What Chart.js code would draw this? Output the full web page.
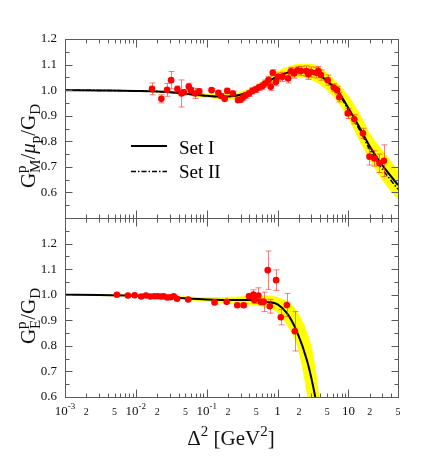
<!DOCTYPE html>
<html>
<head>
<meta charset="utf-8">
<script src="https://cdn.jsdelivr.net/npm/chart.js@4.4.0/dist/chart.umd.min.js"></script>
<style>
  html, body { margin: 0; padding: 0; background: #fff; }
  #wrap { position: relative; width: 436px; height: 462px; }
  canvas { position: absolute; left: 0; }
</style>
</head>
<body>
<div id="wrap">
  <canvas id="topChart" width="436" height="230" style="top:0"></canvas>
  <canvas id="botChart" width="436" height="252" style="top:210px"></canvas>
</div>
<script>
// ---- data ----
// upper panel: G_M^p / mu_p / G_D
var gmX = [0.0169, 0.0229, 0.0276, 0.0314, 0.0386, 0.0440, 0.0474, 0.0558, 0.0596, 0.0687, 0.0783,
           0.117, 0.146, 0.160, 0.179, 0.195, 0.234, 0.276, 0.301, 0.324, 0.355, 0.395, 0.441, 0.491,
           0.547, 0.611, 0.665, 0.743, 0.801, 0.855, 0.944, 1.016, 1.17, 1.41, 1.54, 1.71, 1.91, 2.13,
           2.54, 2.70, 2.95, 3.48, 3.75, 4.09, 5.09, 6.19, 6.90, 7.43, 9.77, 12.1, 16.0, 19.8, 23.3, 27.4, 31.6];
var gmY = [1.005, 0.966, 1.001, 1.039, 1.004, 0.987, 0.992, 1.014, 1.000, 0.987, 0.995,
           1.000, 0.990, 0.977, 0.966, 0.997, 0.987, 0.961, 0.963, 0.971, 0.980, 0.987, 0.997, 1.003,
           1.011, 1.016, 1.026, 1.039, 1.013, 1.068, 1.032, 1.052, 1.052, 1.046, 1.074, 1.065, 1.078, 1.075,
           1.075, 1.062, 1.071, 1.068, 1.075, 1.059, 1.039, 1.010, 1.000, 0.972, 0.909, 0.886, 0.831, 0.740, 0.733, 0.714, 0.724];
var gmErr = [0.023, 0.016, 0.025, 0.034, 0.012, 0.053, 0.010, 0.013, 0.010, 0.020, 0.010,
             0.006, 0.008, 0.010, 0.008, 0.010, 0.010, 0.010, 0.010, 0.010, 0.012, 0.012, 0.012, 0.012,
             0.012, 0.014, 0.014, 0.015, 0.015, 0.012, 0.015, 0.015, 0.018, 0.018, 0.015, 0.018, 0.015, 0.018,
             0.020, 0.020, 0.020, 0.020, 0.018, 0.020, 0.020, 0.015, 0.015, 0.018, 0.020, 0.018, 0.020, 0.033, 0.030, 0.036, 0.062];

var mX      = [0.001, 0.003, 0.01, 0.03, 0.05, 0.1, 0.15, 0.2, 0.3, 0.5, 0.7, 1, 1.5, 2, 3, 4, 5, 7, 10, 15, 20, 30, 50];
var mSet1   = [1.000, 0.999, 0.997, 0.992, 0.986, 0.978, 0.975, 0.975, 0.982, 1.006, 1.030, 1.054, 1.071, 1.077, 1.072, 1.057, 1.036, 0.998, 0.929, 0.844, 0.780, 0.707, 0.629];
var mSet2   = [1.000, 0.999, 0.997, 0.992, 0.986, 0.978, 0.975, 0.975, 0.982, 1.006, 1.030, 1.054, 1.071, 1.077, 1.072, 1.056, 1.034, 0.994, 0.921, 0.834, 0.767, 0.692, 0.612];
var mBandHi = [1.002, 1.001, 0.999, 0.996, 0.992, 0.986, 0.985, 0.986, 0.994, 1.020, 1.048, 1.075, 1.095, 1.103, 1.102, 1.090, 1.068, 1.028, 0.978, 0.900, 0.832, 0.766, 0.688];
var mBandLo = [0.998, 0.997, 0.995, 0.988, 0.980, 0.970, 0.965, 0.964, 0.970, 0.992, 1.012, 1.033, 1.047, 1.050, 1.040, 1.020, 0.998, 0.955, 0.886, 0.790, 0.727, 0.648, 0.570];

// lower panel: G_E^p / G_D
var geX = [0.0054, 0.00773, 0.0096, 0.0119, 0.0139, 0.016, 0.0182, 0.0203, 0.0227, 0.0247, 0.0275, 0.0307,
           0.0342, 0.0382, 0.0547, 0.129, 0.191, 0.270, 0.332, 0.395, 0.456, 0.470, 0.536, 0.578, 0.638,
           0.726, 0.776, 0.953, 1.11, 1.35, 1.75];
var geY = [1.000, 0.997, 0.998, 0.993, 0.997, 0.993, 0.994, 0.994, 0.993, 0.994, 0.989, 0.990,
           0.994, 0.984, 0.981, 0.970, 0.972, 0.959, 0.959, 0.994, 1.001, 0.979, 0.997, 0.972, 0.972,
           1.096, 0.955, 1.057, 0.912, 0.960, 0.857];
var geErr = [0.003, 0.003, 0.003, 0.003, 0.003, 0.003, 0.003, 0.003, 0.003, 0.003, 0.003, 0.003,
             0.004, 0.004, 0.004, 0.006, 0.005, 0.007, 0.007, 0.010, 0.018, 0.012, 0.030, 0.012, 0.038,
             0.075, 0.027, 0.040, 0.030, 0.045, 0.077];

var eX      = [0.001, 0.003, 0.01, 0.03, 0.1, 0.3, 0.5, 0.7, 1, 1.36, 1.88, 2.63, 3.4, 4.2];
var eSet1   = [1.000, 0.999, 0.996, 0.990, 0.981, 0.979, 0.979, 0.972, 0.962, 0.927, 0.855, 0.738, 0.600, 0.450];
var eBandX  = [0.001, 0.01, 0.03, 0.1, 0.3, 0.5, 0.7, 1, 1.36, 1.88, 2.63, 3.1, 3.9, 4.5];
var eBandHi = [1.003, 1.000, 0.997, 0.990, 0.993, 0.997, 0.998, 0.990, 0.975, 0.935, 0.850, 0.783, 0.600, 0.450];
var eBandLo = [0.997, 0.992, 0.984, 0.972, 0.962, 0.958, 0.948, 0.930, 0.880, 0.800, 0.600, 0.450, 0.200, 0.100];

// axis labels
var xLabelVals = [0.001, 0.002, 0.005, 0.01, 0.02, 0.05, 0.1, 0.2, 0.5, 1, 2, 5, 10, 20, 50];
var xLabelText = ['10^-3', '2', '5', '10^-2', '2', '5', '10^-1', '2', '5', '1', '2', '5', '10', '2', '5'];
var yLabelsTop = ['0.6', '0.7', '0.8', '0.9', '1.0', '1.1', '1.2'];
var yLabelsBot = ['0.6', '0.7', '0.8', '0.9', '1.0', '1.1', '1.2'];
var legendNames = ['Set I', 'Set II'];

// ---- helpers ----
var serif = '"Liberation Serif", "Times New Roman", serif';
function font(size, style) { return (style || '') + size + 'px ' + serif; }

function pts(xs, ys) { return xs.map(function (x, i) { return { x: x, y: ys[i] }; }); }

// rich text: [text, kind] with kind n | i | sup | sub | ss ("sup|sub" stacked)
function richText(ctx, parts, x, y, size, draw) {
  var sm = Math.round(size * 0.7);
  parts.forEach(function (p) {
    var t = p[0], k = p[1];
    if (k === 'ss') {
      var s = t.split('|');
      ctx.font = font(sm);
      if (draw) { ctx.fillText(s[0], x, y - size * 0.42); ctx.fillText(s[1], x, y + size * 0.22); }
      x += Math.max(ctx.measureText(s[0]).width, ctx.measureText(s[1]).width);
    } else if (k === 'sup' || k === 'sub') {
      ctx.font = font(sm);
      if (draw) ctx.fillText(t, x, y + (k === 'sup' ? -size * 0.45 : size * 0.22));
      x += ctx.measureText(t).width;
    } else {
      ctx.font = font(size, k === 'i' ? 'italic ' : '');
      if (draw) ctx.fillText(t, x, y);
      x += ctx.measureText(t).width;
    }
  });
  return x;
}
function richCentered(ctx, parts, cx, y, size) {
  var w = richText(ctx, parts, 0, 0, size, false);
  richText(ctx, parts, cx - w / 2, y, size, true);
}

function panelPlugin(cfg) {
  return {
    id: 'panel_' + cfg.name,
    beforeDatasetDraw: function (chart, args) {
      if (args.index !== 0) return;
      var ctx = chart.ctx, a = chart.chartArea, xs = chart.scales.x, ys = chart.scales.y;
      ctx.save();
      ctx.beginPath();
      ctx.rect(a.left, a.top, a.right - a.left, a.bottom - a.top);
      ctx.clip();
      ctx.strokeStyle = 'rgba(240,40,40,0.6)';
      ctx.lineWidth = 1;
      cfg.errX.forEach(function (x, i) {
        var px = Math.round(xs.getPixelForValue(x)) + 0.5;
        var y1 = ys.getPixelForValue(cfg.errY[i] + cfg.errE[i]);
        var y2 = ys.getPixelForValue(cfg.errY[i] - cfg.errE[i]);
        ctx.beginPath();
        ctx.moveTo(px, y1); ctx.lineTo(px, y2);
        ctx.moveTo(px - 3, y1); ctx.lineTo(px + 3, y1);
        ctx.moveTo(px - 3, y2); ctx.lineTo(px + 3, y2);
        ctx.stroke();
      });
      ctx.restore();
    },
    afterDraw: function (chart) {
      var ctx = chart.ctx, a = chart.chartArea, xs = chart.scales.x, ys = chart.scales.y;
      var L = Math.round(a.left) + 0.5, R = Math.round(a.right) + 0.5;
      var T = Math.round(a.top) + 0.5, B = Math.round(a.bottom) + 0.5;
      ctx.save();
      ctx.strokeStyle = '#5a5a5a';
      ctx.lineWidth = 1;
      ctx.strokeRect(L, T, R - L, B - T);

      // x ticks, top and bottom edges
      ctx.beginPath();
      for (var e = -3; e <= 1; e++) {
        for (var m = 1; m <= 9; m++) {
          var v = m * Math.pow(10, e);
          if (v > 50.0001) break;
          var px = Math.round(xs.getPixelForValue(v)) + 0.5;
          var len = m === 1 ? 8 : 4;
          ctx.moveTo(px, B); ctx.lineTo(px, B - len);
          ctx.moveTo(px, T); ctx.lineTo(px, T + len);
        }
      }
      // y ticks, left and right edges
      for (var k = Math.round(ys.min * 100); k <= Math.round(ys.max * 100); k += 5) {
        var py = Math.round(ys.getPixelForValue(k / 100)) + 0.5;
        var ln = k % 10 === 0 ? 7 : 4;
        ctx.moveTo(L, py); ctx.lineTo(L + ln, py);
        ctx.moveTo(R, py); ctx.lineTo(R - ln, py);
      }
      ctx.stroke();

      // y tick labels
      ctx.fillStyle = '#111';
      ctx.textAlign = 'right';
      ctx.textBaseline = 'middle';
      ctx.font = font(13);
      cfg.yLabels.forEach(function (s) {
        ctx.fillText(s, a.left - 8, ys.getPixelForValue(parseFloat(s)));
      });

      ctx.textAlign = 'left';
      ctx.textBaseline = 'alphabetic';

      // x tick labels
      if (cfg.xLabels) {
        xLabelVals.forEach(function (v, i) {
          var s = xLabelText[i];
          var cx = xs.getPixelForValue(v);
          var decade = Math.abs(Math.log10(v) - Math.round(Math.log10(v))) < 1e-9;
          var parts = s.indexOf('^') >= 0 ? [[s.split('^')[0], 'n'], [s.split('^')[1], 'sup']] : [[s, 'n']];
          richCentered(ctx, parts, cx, a.bottom + 18, decade ? 13 : 10);
        });
      }

      // y axis title, rotated
      ctx.save();
      ctx.translate(cfg.titleX, cfg.titleY);
      ctx.rotate(-Math.PI / 2);
      richCentered(ctx, cfg.title, 0, 0, 21);
      ctx.restore();

      // x axis title
      if (cfg.xTitle) {
        richCentered(ctx, cfg.xTitle, 231, a.bottom + 48, 21);
      }

      // legend
      if (cfg.legend) {
        ctx.strokeStyle = '#000';
        ctx.lineWidth = 2;
        ctx.beginPath(); ctx.moveTo(131, 146); ctx.lineTo(167, 146); ctx.stroke();
        ctx.lineWidth = 1.5;
        ctx.setLineDash([5, 2, 1.5, 2]);
        ctx.beginPath(); ctx.moveTo(131, 171.5); ctx.lineTo(167, 171.5); ctx.stroke();
        ctx.setLineDash([]);
        ctx.fillStyle = '#000';
        ctx.font = font(19);
        ctx.fillText(legendNames[0], 179, 153.5);
        ctx.fillText(legendNames[1], 179, 177.5);
      }
      ctx.restore();
    }
  };
}

function options(yMin, yMax, pad) {
  return {
    responsive: false,
    animation: false,
    devicePixelRatio: 1,
    layout: { padding: pad },
    plugins: { legend: { display: false }, tooltip: { enabled: false } },
    scales: {
      x: { type: 'logarithmic', min: 0.001, max: 50, display: false },
      y: { type: 'linear', min: yMin, max: yMax, display: false }
    }
  };
}

function pointSet(xs, ys) {
  return { data: pts(xs, ys), showLine: false, pointRadius: 3.3, pointBackgroundColor: '#ff0000',
           pointBorderWidth: 0, order: 0 };
}
function curve(xs, ys, dash, width) {
  return { data: pts(xs, ys), showLine: true, borderColor: '#000', borderWidth: width, borderDash: dash,
           pointRadius: 0, cubicInterpolationMode: 'monotone', fill: false, order: 1 };
}
function band(xs, ys, fill) {
  return { data: pts(xs, ys), showLine: true, borderColor: 'rgba(0,0,0,0)', borderWidth: 1,
           backgroundColor: '#ffff00', pointRadius: 0, cubicInterpolationMode: 'monotone',
           fill: fill, order: 2 };
}

new Chart(document.getElementById('topChart'), {
  type: 'scatter',
  data: {
    datasets: [
      pointSet(gmX, gmY),
      curve(mX, mSet1, [], 2),
      curve(mX, mSet2, [5, 2, 1.5, 2], 1.5),
      band(mX, mBandHi, '+1'),
      band(mX, mBandLo, false)
    ]
  },
  options: options(0.5, 1.2, { left: 65, right: 38, top: 39, bottom: 12 }),
  plugins: [panelPlugin({
    name: 'top', errX: gmX, errY: gmY, errE: gmErr, yLabels: yLabelsTop, xLabels: false,
    titleX: 35, titleY: 146,
    title: [['G', 'n'], ['p|M', 'ss'], ['/', 'n'], ['μ', 'i'], ['p', 'sub'], ['/', 'n'], ['G', 'n'], ['D', 'sub']],
    legend: true
  })]
});

new Chart(document.getElementById('botChart'), {
  type: 'scatter',
  data: {
    datasets: [
      pointSet(geX, geY),
      curve(eX, eSet1, [], 2),
      band(eBandX, eBandHi, '+1'),
      band(eBandX, eBandLo, false)
    ]
  },
  options: options(0.6, 1.3, { left: 65, right: 38, top: 8, bottom: 65 }),
  plugins: [panelPlugin({
    name: 'bot', errX: geX, errY: geY, errE: geErr, yLabels: yLabelsBot, xLabels: true,
    titleX: 35, titleY: 106,
    title: [['G', 'n'], ['p|E', 'ss'], ['/', 'n'], ['G', 'n'], ['D', 'sub']],
    xTitle: [['Δ', 'n'], ['2', 'sup'], [' [GeV', 'n'], ['2', 'sup'], [']', 'n']]
  })]
});
</script>
</body>
</html>
